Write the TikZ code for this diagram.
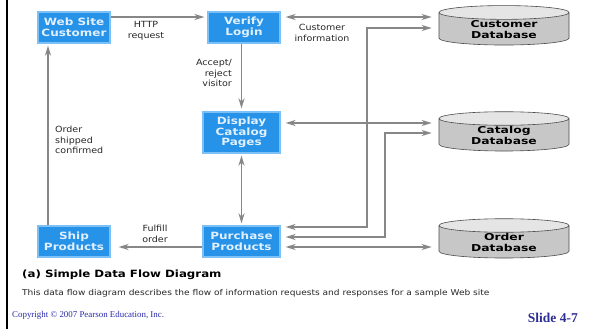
\documentclass[tikz,border=0pt]{standalone}
\usepackage{fontspec}
\setmainfont{Liberation Sans}
\newfontfamily\boxfont[FakeStretch=1.2]{DejaVu Sans}
\newfontfamily\dbfont[FakeStretch=1.3]{DejaVu Sans}
\newfontfamily\lblfont[FakeStretch=1.12]{DejaVu Sans}
\newfontfamily\capfont[FakeStretch=1.18]{DejaVu Sans}
\newfontfamily\descfont[FakeStretch=1.13]{DejaVu Sans}
\newfontfamily\footfont{Liberation Serif}
\usetikzlibrary{arrows.meta,shapes.geometric,calc}

\definecolor{procblue}{RGB}{38,146,232}
\definecolor{procedge}{RGB}{125,192,245}
\definecolor{proctext}{RGB}{225,240,255}
\definecolor{flowgray}{RGB}{135,135,135}
\definecolor{footblue}{RGB}{40,40,170}
\definecolor{slideblue}{RGB}{45,45,150}

\tikzset{
  proc/.style={rectangle, fill=procblue, draw=procedge, line width=1.2pt,
    minimum width=72pt, minimum height=31pt, text=proctext, align=center,
    inner sep=1pt, font=\boxfont\bfseries\fontsize{10}{10.5}\selectfont},
  store/.style={cylinder, shape border rotate=90, aspect=0.2,
    draw=black!70, line width=0.6pt, cylinder uses custom fill,
    cylinder body fill=black!22, cylinder end fill=black!10,
    minimum width=130pt, minimum height=27pt, align=center, inner sep=1pt,
    font=\dbfont\bfseries\fontsize{9.5}{10.5}\selectfont},
  tip/.tip={Stealth[length=10pt,width=6pt,inset=3pt]},
  flow/.style={draw=flowgray, line width=1.6pt, -tip},
  twoway/.style={draw=flowgray, line width=1.6pt, tip-tip},
  lbl/.style={font=\lblfont\fontsize{8.5}{10.5}\selectfont, text=black!85, inner sep=0pt}
}

\begin{document}
\begin{tikzpicture}[x=1pt,y=-1pt]
  \useasboundingbox (0,0) rectangle (589,329);
  % page edge rule
  \draw[line width=2pt] (7,0) -- (7,329);

  % processes
  \node[proc] (web)      at (74,27.5)   {Web Site\\Customer};
  \node[proc] (verify)   at (244,27.5)  {Verify\\Login};
  \node[proc, minimum width=77pt, minimum height=41pt] (display) at (241.5,132.5) {Display\\Catalog\\Pages};
  \node[proc, minimum width=77pt] (purchase) at (241.5,241.5) {Purchase\\Products};
  \node[proc] (ship)     at (74,241.5)  {Ship\\Products};

  % data stores
  \node[store] (custdb) at (504,29.5)  {Customer\\Database};
  \node[store] (catdb)  at (504,135.5) {Catalog\\Database};
  \node[store, minimum height=30pt] (orddb) at (504,242.5) {Order\\Database};

  % vertical buses on the right
  \coordinate (busA) at (367,0);
  \coordinate (busB) at (385,0);

  % flows between processes
  \draw[flow] ([yshift=10.5pt]web.east) -- ([yshift=10.5pt,xshift=-3pt]verify.west);
  \draw[flow] (display.north |- verify.south) -- ([yshift=3pt]display.north);
  \draw[twoway] ([yshift=-2pt]display.south) -- ([yshift=2pt]purchase.north);
  \draw[flow] ([yshift=-5.5pt]purchase.west) -- ([yshift=-5.5pt,xshift=8pt]ship.east);
  \draw[flow] ([xshift=-26pt]ship.north) -- ([xshift=-26pt,yshift=-2pt]web.south);

  % ports on the processes
  \coordinate (vCust) at ([yshift=10.5pt,xshift=5pt]verify.east);
  \coordinate (dCat)  at ([yshift=9.5pt,xshift=5pt]display.east);
  \coordinate (pA)    at ([yshift=14.5pt,xshift=5pt]purchase.east);
  \coordinate (pB)    at ([yshift=4.5pt,xshift=5pt]purchase.east);
  \coordinate (pC)    at ([yshift=-5.5pt,xshift=5pt]purchase.east);
  % ports on the data stores
  \coordinate (cdB) at ($(custdb.west |- 0,28)+(-7,0)$);
  \coordinate (ktB) at ($(catdb.west |- 0,133)+(-7,0)$);

  \draw[twoway] (vCust) -- ($(vCust -| custdb.west)+(-7,0)$);
  \draw[twoway] (dCat) -- ($(dCat -| catdb.west)+(-7,0)$);
  \draw[twoway] (pA) -- (pA -| busA) -- (cdB -| busA) -- (cdB);
  \draw[twoway] (pB) -- (pB -| busB) -- (ktB -| busB) -- (ktB);
  \draw[twoway] (pC) -- ($(pC -| orddb.west)+(-7,0)$);

  % flow labels
  \node[lbl, align=center] (lHttp) at (146,31) {HTTP\\request};
  \node[lbl, align=center] (lCust) at (322,33) {Customer\\information};
  \node[lbl, align=right, anchor=east] (lAcc) at (232,73) {Accept/\\reject\\visitor};
  \node[lbl, align=left, anchor=west] (lShip) at (55,140) {Order\\shipped\\confirmed};
  \node[lbl, align=center] (lFul) at (155,234) {Fulfill\\order};

  % caption
  \node[anchor=west, inner sep=0, font=\capfont\bfseries\fontsize{10}{12}\selectfont] (cap) at (22,275) {(a) Simple Data Flow Diagram};
  \node[anchor=west, inner sep=0, font=\descfont\fontsize{8}{10}\selectfont, text=black!85] (desc) at (22,293)
    {This data flow diagram describes the flow of information requests and responses for a sample Web site};

  % slide footer
  \node[anchor=west, inner sep=0, font=\footfont\fontsize{8.9}{10}\selectfont, text=footblue] (copy) at (12,315)
    {Copyright \textcopyright\ 2007 Pearson Education, Inc.};
  \node[anchor=east, inner sep=0, font=\footfont\bfseries\fontsize{13.5}{15}\selectfont, text=slideblue] (slide) at (578,318)
    {Slide 4-7};
\end{tikzpicture}
\end{document}
